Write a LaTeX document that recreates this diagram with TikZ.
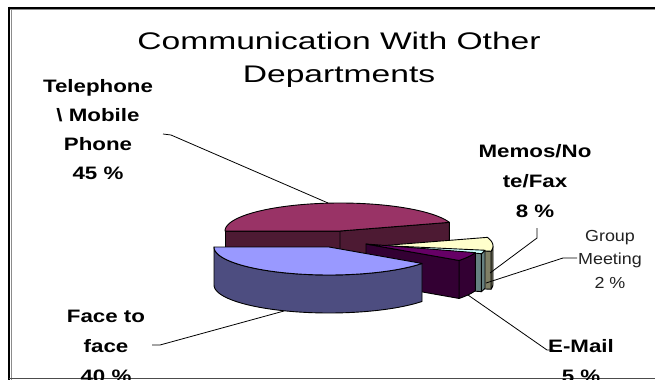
\documentclass[tikz,border=0pt]{standalone}
\usepackage{fontspec}
\setmainfont{Liberation Sans}
\usepackage{graphicx}
\definecolor{telTop}{HTML}{993366}
\definecolor{telSide}{HTML}{4D1A33}
\definecolor{faceTop}{HTML}{9999FF}
\definecolor{faceSide}{HTML}{4D4D80}
\definecolor{mailTop}{HTML}{660066}
\definecolor{mailSide}{HTML}{330033}
\definecolor{memoTop}{HTML}{FFFFCC}
\definecolor{memoSide}{HTML}{808066}
\definecolor{grpTop}{HTML}{CCFFFF}
\definecolor{grpSide}{HTML}{668080}
\definecolor{grpText}{HTML}{222222}
\newcommand\RX{115}
\newcommand\RY{28}
\newcommand\HH{38}
\newcommand\blk[4]{\scalebox{#1}[1]{\fontsize{#2}{#3}\selectfont\begin{tabular}[t]{@{}c@{}}#4\end{tabular}}}
\begin{document}
\begin{tikzpicture}[x=1pt,y=-1pt,
  pie/.style={draw=black,line width=0.9pt,line join=round},
  leader/.style={draw=black,line width=0.8pt},
  lbl/.style={inner sep=0pt,anchor=base,font=\bfseries},
  glbl/.style={inner sep=0pt,anchor=base,text=grpText}]
\useasboundingbox (0,0) rectangle (655,380);
\fill[white] (0,0) rectangle (655,380);
\clip (0,0) rectangle (655,379.5);
% frame
\draw[black,line width=2pt] (8,7.5) -- (655,7.5);
\draw[black!45,line width=1pt] (10,9.5) -- (655,9.5);
\draw[black,line width=2pt] (9,6.5) -- (9,380);
\draw[black!45,line width=1pt] (11,9) -- (11,380);
\draw[black!70,line width=1.2pt] (9,378.6) -- (655,378.6);
% Telephone (C = 340,231, 180..342)
\filldraw[pie,fill=telSide] (340,231) -- (225,231) -- (225,269) -- (340,269) -- cycle;
\filldraw[pie,fill=telSide] (340,231) -- ({340+\RX*cos(342)},{231+\RY*sin(342)}) -- ({340+\RX*cos(342)},{231+\HH+\RY*sin(342)}) -- (340,269) -- cycle;
\filldraw[pie,fill=telTop] (340,231) -- plot[domain=180:342,samples=60] ({340+\RX*cos(\x)},{231+\RY*sin(\x)}) -- cycle;
% Memos (C = 378,246, -18..10.8)
\filldraw[pie,fill=memoSide] plot[domain=0:10.8,samples=8] ({378+\RX*cos(\x)},{246+\RY*sin(\x)}) -- plot[domain=0:10.8,samples=8] ({378+\RX*cos(10.8-\x)},{246+\HH+\RY*sin(10.8-\x)}) -- cycle;
\filldraw[pie,fill=memoSide] (378,246) -- ({378+\RX*cos(10.8)},{246+\RY*sin(10.8)}) -- ({378+\RX*cos(10.8)},{246+\HH+\RY*sin(10.8)}) -- (378,284) -- cycle;
\filldraw[pie,fill=memoTop] (378,246) -- plot[domain=-18:10.8,samples=12] ({378+\RX*cos(\x)},{246+\RY*sin(\x)}) -- cycle;
% Group meeting (C = 372,245, 10.8..18)
\filldraw[pie,fill=grpSide] plot[domain=10.8:18,samples=5] ({372+\RX*cos(\x)},{245+\RY*sin(\x)}) -- plot[domain=10.8:18,samples=5] ({372+\RX*cos(28.8-\x)},{245+\HH+\RY*sin(28.8-\x)}) -- cycle;
\filldraw[pie,fill=grpSide] (372,245) -- ({372+\RX*cos(18)},{245+\RY*sin(18)}) -- ({372+\RX*cos(18)},{245+\HH+\RY*sin(18)}) -- (372,283) -- cycle;
\filldraw[pie,fill=grpTop] (372,245) -- plot[domain=10.8:18,samples=5] ({372+\RX*cos(\x)},{245+\RY*sin(\x)}) -- cycle;
% E-Mail (C = 366,244, 18..36)
\filldraw[pie,fill=mailSide] plot[domain=18:36,samples=8] ({366+\RX*cos(\x)},{244+\RY*sin(\x)}) -- plot[domain=18:36,samples=8] ({366+\RX*cos(54-\x)},{244+\HH+\RY*sin(54-\x)}) -- cycle;
\filldraw[pie,fill=mailSide] (366,244) -- ({366+\RX*cos(36)},{244+\RY*sin(36)}) -- ({366+\RX*cos(36)},{244+\HH+\RY*sin(36)}) -- (366,282) -- cycle;
\filldraw[pie,fill=mailTop] (366,244) -- plot[domain=18:36,samples=8] ({366+\RX*cos(\x)},{244+\RY*sin(\x)}) -- cycle;
% Face to face (C = 329,247, 36..180)
\filldraw[pie,fill=faceSide] plot[domain=36:180,samples=50] ({329+\RX*cos(\x)},{247+\RY*sin(\x)}) -- plot[domain=36:180,samples=50] ({329+\RX*cos(216-\x)},{247+\HH+\RY*sin(216-\x)}) -- cycle;
\filldraw[pie,fill=faceTop] (329,247) -- plot[domain=36:180,samples=50] ({329+\RX*cos(\x)},{247+\RY*sin(\x)}) -- cycle;
% title
\node[inner sep=0pt,anchor=base] (title) at (339,49) {\blk{1.4}{24}{33}{Communication With Other\\Departments}};
% labels
\node[lbl] (tel) at (98,92) {\blk{1.24}{18}{29}{Telephone\\\textbackslash\ Mobile\\Phone\\45 \%}};
\node[lbl] (memo) at (535,157) {\blk{1.24}{18}{30}{Memos/No\\te/Fax\\8 \%}};
\node[glbl] (grp) at (610,241) {\blk{1.12}{16}{23.5}{Group\\Meeting\\2 \%}};
\node[lbl] (face) at (106,322) {\blk{1.24}{18}{30}{Face to\\face\\40 \%}};
\node[lbl] (mail) at (581,352) {\blk{1.24}{18}{30}{E-Mail\\5 \%}};
% leader ends
\coordinate (telA) at (163,134);
\coordinate (telB) at (171,135);
\coordinate (telP) at (328,203);
\coordinate (memA) at (537,228);
\coordinate (memB) at (537,238);
\coordinate (memP) at (490,273);
\coordinate (grpA) at (577,258);
\coordinate (grpB) at (563,258);
\coordinate (grpP) at (486,283);
\coordinate (mailA) at (554,350);
\coordinate (mailB) at (547,350);
\coordinate (mailP) at (468,295);
\coordinate (faceA) at (152,345);
\coordinate (faceB) at (160,345);
\coordinate (faceP) at (284,311);
\draw[leader] (telA) -- (telB) -- (telP);
\draw[leader] (memA) -- (memB) -- (memP);
\draw[leader] (grpA) -- (grpB) -- (grpP);
\draw[leader] (mailA) -- (mailB) -- (mailP);
\draw[leader] (faceA) -- (faceB) -- (faceP);
\end{tikzpicture}
\end{document}
